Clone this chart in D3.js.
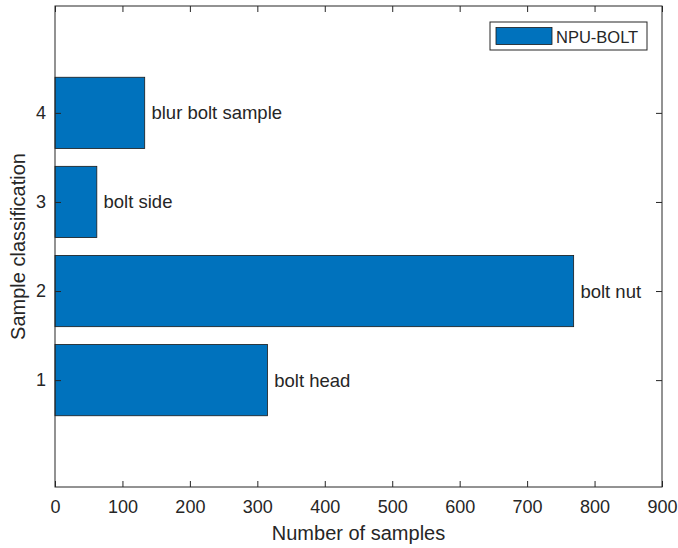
<!DOCTYPE html>
<html>
<head>
<meta charset="utf-8">
<script src="https://cdn.jsdelivr.net/npm/d3@7"></script>
<style>
  body { margin: 0; background: #fff; }
  text { font-family: "Liberation Sans", Arial, Helvetica, sans-serif; fill: #262626; }
</style>
</head>
<body>
<div id="chart"></div>
<script>
const classes = [1, 2, 3, 4];
const samples = [315, 769, 62, 133];
const names = ["bolt head", "bolt nut", "bolt side", "blur bolt sample"];
const xTicks = [0, 100, 200, 300, 400, 500, 600, 700, 800, 900];
const seriesName = "NPU-BOLT";

const width = 678, height = 548;
const m = { left: 55, right: 16, top: 6, bottom: 61 };
const W = width - m.left - m.right, H = height - m.top - m.bottom;
const axisColor = "#262626";
const tickLen = 6;

const svg = d3.select("#chart").append("svg")
  .attr("width", width).attr("height", height);
const g = svg.append("g").attr("transform", `translate(${m.left},${m.top})`);

const x = d3.scaleLinear().domain([0, 900]).range([0, W]);
const y = d3.scaleLinear().domain([-0.2, 5.2]).range([H, 0]);
const barH = y(0) - y(0.8);

// bars
g.selectAll("rect.bar").data(classes).enter().append("rect")
  .attr("class", "bar")
  .attr("x", x(0))
  .attr("y", (d) => y(d + 0.4))
  .attr("width", (d, i) => x(samples[i]) - x(0))
  .attr("height", barH)
  .attr("fill", "#0072BD")
  .attr("stroke", "#1a1a1a")
  .attr("stroke-width", 0.8);

// bar labels
g.selectAll("text.lbl").data(classes).enter().append("text")
  .attr("class", "lbl")
  .attr("x", (d, i) => x(samples[i] + 10))
  .attr("y", (d) => y(d))
  .attr("dy", "0.35em")
  .style("font-size", "18.5px")
  .text((d, i) => names[i]);

// axes (MATLAB style: ticks inward, box on)
function styleAxis(sel) {
  sel.attr("font-family", null).attr("font-size", null);
  sel.select(".domain").remove();
  sel.selectAll(".tick line").attr("stroke", axisColor);
  sel.selectAll(".tick text").attr("fill", axisColor)
    .style("font-family", '"Liberation Sans", Arial, sans-serif')
    .style("font-size", "18px");
}

g.append("g").attr("transform", `translate(0,${H})`)
  .call(d3.axisBottom(x).tickValues(xTicks).tickFormat(d3.format("d")).tickSizeInner(-tickLen).tickSizeOuter(0).tickPadding(13))
  .call(styleAxis);
g.append("g")
  .call(d3.axisTop(x).tickValues(xTicks).tickSizeInner(-tickLen).tickSizeOuter(0).tickFormat(""))
  .call(styleAxis);
g.append("g")
  .call(d3.axisLeft(y).tickValues(classes).tickFormat(d3.format("d")).tickSizeInner(-tickLen).tickSizeOuter(0).tickPadding(9))
  .call(styleAxis);
g.append("g").attr("transform", `translate(${W},0)`)
  .call(d3.axisRight(y).tickValues(classes).tickSizeInner(-tickLen).tickSizeOuter(0).tickFormat(""))
  .call(styleAxis);

// box
g.append("rect").attr("width", W).attr("height", H)
  .attr("fill", "none").attr("stroke", axisColor).attr("stroke-width", 1);

// axis titles
svg.append("text")
  .attr("x", m.left + W / 2).attr("y", 540)
  .attr("text-anchor", "middle")
  .style("font-size", "20px")
  .text("Number of samples");
svg.append("text")
  .attr("transform", `translate(25,${m.top + H / 2}) rotate(-90)`)
  .attr("text-anchor", "middle")
  .style("font-size", "20px")
  .text("Sample classification");

// legend
const lg = svg.append("g").attr("transform", "translate(490,22)");
lg.append("rect").attr("width", 157).attr("height", 28)
  .attr("fill", "#fff").attr("stroke", axisColor).attr("stroke-width", 1);
lg.append("rect").attr("x", 6).attr("y", 5.5).attr("width", 56).attr("height", 17)
  .attr("fill", "#0072BD").attr("stroke", "#1a1a1a").attr("stroke-width", 0.8);
lg.append("text").attr("x", 66).attr("y", 21)
  .style("font-size", "16.5px")
  .text(seriesName);
</script>
</body>
</html>
